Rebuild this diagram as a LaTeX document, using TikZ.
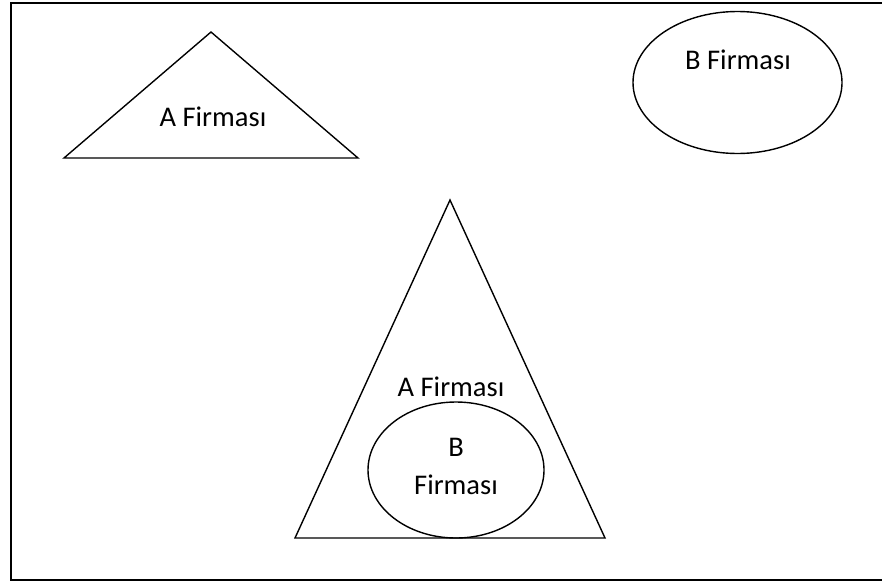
\documentclass[tikz,border=0pt]{standalone}
\usepackage{fontspec}
\setmainfont{Carlito}
\usetikzlibrary{shapes.geometric}
\begin{document}
\begin{tikzpicture}[x=1pt,y=-1pt,
  shapeline/.style={draw=black,line width=1.4pt,line join=miter},
  lbl/.style={font=\fontsize{28.5}{32}\selectfont,inner sep=0pt,anchor=center},
  frame/.style={draw=black,line width=1.6pt}]
\useasboundingbox (0,0) rectangle (882,584);
% frame (right side cut off in the scan)
\draw[frame] (884,3) -- (11,3) -- (11,580) -- (884,580);
% top-left triangle
\coordinate (t1a) at (211,32);
\coordinate (t1l) at (64,158);
\coordinate (t1r) at (358,158);
\draw[shapeline] (t1a) -- (t1l) -- (t1r) -- cycle;
\node[lbl] (ta) at (213,117) {A Firması};
% top-right ellipse
\node[shapeline,ellipse,minimum width=209pt,minimum height=142pt,inner sep=0pt] (e1) at (737.5,82.5) {};
\node[lbl] (tb) at (738,60) {B Firması};
% big triangle
\coordinate (t2a) at (450,200);
\coordinate (t2l) at (295,538);
\coordinate (t2r) at (605,538);
\draw[shapeline] (t2a) -- (t2l) -- (t2r) -- cycle;
\node[lbl] (ta2) at (451,387) {A Firması};
% inner ellipse
\node[shapeline,ellipse,minimum width=176pt,minimum height=136pt,inner sep=0pt] (e2) at (456,470) {};
\node[lbl] (tb2a) at (456,447) {B};
\node[lbl] (tb2b) at (456,485) {Firması};
\end{tikzpicture}
\end{document}
